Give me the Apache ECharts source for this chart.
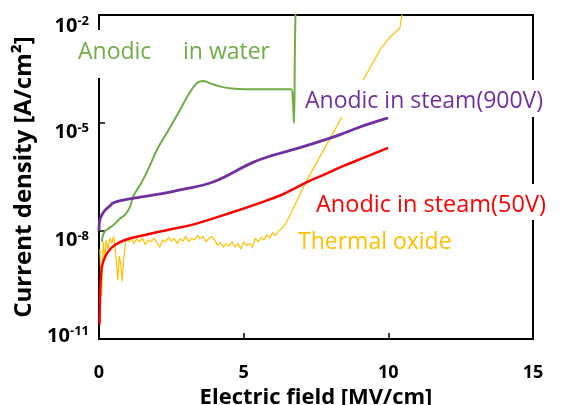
<!DOCTYPE html>
<html><head><meta charset="utf-8">
<script src="https://cdn.jsdelivr.net/npm/echarts@6/dist/echarts.min.js"></script>
<style>html,body{margin:0;padding:0;background:#fff}#c{width:563px;height:405px}</style>
</head><body><div id="c"></div>
<script>
// Electric field [MV/cm] and log10 of current density [A/cm2]
const waterE    = [0.1, 0.17, 0.35, 0.5, 0.75, 0.9, 1.07, 1.18, 1.31, 1.52, 1.75, 2.0, 2.4, 2.8, 3.1, 3.39, 3.6, 3.85, 4.2, 4.6, 5.0, 5.8, 6.65, 6.7, 6.74, 6.77, 6.8];
const waterLogJ = [-8.3, -8.05, -7.92, -7.83, -7.64, -7.55, -7.33, -7.05, -6.86, -6.58, -6.2, -5.75, -5.2, -4.64, -4.2, -3.89, -3.83, -3.9, -3.99, -4.04, -4.06, -4.06, -4.06, -4.4, -5.0, -3.0, -1.5];

const steam900E    = [0, 0.01, 0.03, 0.1, 0.21, 0.38, 0.48, 0.83, 1.42, 1.66, 2.45, 2.8, 3.94, 5.3, 6.0, 6.8, 7.88, 8.57, 9.02, 9.99];
const steam900LogJ = [-8.0, -7.78, -7.69, -7.55, -7.42, -7.3, -7.22, -7.14, -7.06, -7.03, -6.92, -6.86, -6.64, -6.1, -5.9, -5.72, -5.45, -5.25, -5.11, -4.86];

const steam50E    = [0.02, 0.03, 0.07, 0.14, 0.31, 0.55, 0.9, 1.59, 2.38, 3.21, 4.53, 5.67, 6.3, 6.71, 7.19, 7.8, 8.43, 9.2, 9.99];
const steam50LogJ = [-10.6, -10.06, -9.2, -8.86, -8.58, -8.39, -8.25, -8.11, -7.97, -7.83, -7.5, -7.19, -7.0, -6.84, -6.64, -6.43, -6.2, -5.95, -5.69];

const thermalE = [0.03, 0.06, 0.09, 0.12, 0.15, 0.2, 0.25, 0.3, 0.38, 0.45, 0.5, 0.55, 0.6, 0.65, 0.7, 0.75, 0.8, 0.85, 0.92, 0.98,
  1.05, 1.1, 1.2, 1.3, 1.4, 1.5, 1.6, 1.7, 1.8, 1.9, 2.0, 2.1, 2.2, 2.3, 2.4, 2.5, 2.6, 2.7, 2.8, 2.9,
  3.0, 3.1, 3.2, 3.3, 3.4, 3.5, 3.6, 3.7, 3.8, 3.9, 4.0, 4.1, 4.2, 4.3, 4.4, 4.5, 4.6, 4.7, 4.8, 4.9,
  5.0, 5.1, 5.2, 5.3, 5.4, 5.5, 5.6, 5.7, 5.8, 5.9, 6.0, 6.1, 6.2, 6.3, 6.45, 6.6, 7.19, 8.4, 9.13, 9.71, 10.05, 10.4, 10.47, 10.5];
const thermalLogJ = [-8.5, -9.2, -9.8, -9.0, -8.3, -8.8, -8.25, -8.5, -8.2, -8.35, -8.15, -8.4, -8.85, -9.36, -8.7, -8.9, -9.4, -8.8, -8.3, -8.2,
  -8.3, -8.18, -8.35, -8.22, -8.3, -8.2, -8.38, -8.25, -8.3, -8.2, -8.32, -8.45, -8.25, -8.3, -8.18, -8.28, -8.2, -8.35, -8.22, -8.28,
  -8.15, -8.3, -8.2, -8.25, -8.12, -8.22, -8.15, -8.3, -8.2, -8.15, -8.25, -8.4, -8.32, -8.45, -8.35, -8.42, -8.3, -8.45, -8.35, -8.5,
  -8.3, -8.4, -8.35, -8.45, -8.2, -8.3, -8.18, -8.25, -8.1, -8.2, -8.05, -8.12, -8.0, -7.95, -7.8, -7.56, -6.58, -4.83, -3.81, -2.97, -2.62, -2.36, -2.0, -1.5];

const xTicks = [0, 5, 10, 15];
const yTickExps = [-11, -8, -5, -2];
const yLabelPos = [-10.92, -8.27, -5.27, -2.3];

const pairs = (xs, ys) => xs.map((x, i) => [x, ys[i]]);

const chart = echarts.init(document.getElementById('c'), null, {renderer: 'canvas'});
const FONT = '"Open Sans", Lato, sans-serif';

chart.setOption({
  animation: false,
  backgroundColor: '#fff',
  grid: {left: 99, right: 30, top: 15, bottom: 66, containLabel: false, outerBoundsMode: 'none',
    show: true, borderColor: '#000', borderWidth: 2, backgroundColor: 'transparent'},
  xAxis: {
    type: 'value', min: 0, max: 15, interval: 5,
    name: 'Electric field [MV/cm]', nameLocation: 'middle', nameGap: 44,
    nameTextStyle: {fontFamily: FONT, fontWeight: 'bold', fontSize: 22, color: '#000'},
    axisLine: {lineStyle: {color: '#000', width: 2}},
    axisTick: {inside: true, length: 6, lineStyle: {color: '#000', width: 1.5}},
    axisLabel: {margin: 25, fontFamily: FONT, fontWeight: 'bold', fontSize: 18, color: '#000',
      customValues: xTicks},
    splitLine: {show: false}
  },
  yAxis: {
    type: 'value', min: -11, max: -2,
    name: 'Current density [A/cm²]', nameLocation: 'middle', nameGap: 55,
    nameTextStyle: {fontFamily: FONT, fontWeight: 'bold', fontSize: 24, color: '#000'},
    axisLine: {lineStyle: {color: '#000', width: 2}},
    axisTick: {inside: true, length: 6, lineStyle: {color: '#000', width: 1.5}, customValues: yTickExps},
    axisLabel: {
      margin: 10, customValues: yLabelPos,
      formatter: v => '{b|10}{s|' + Math.round(v) + '}',
      rich: {
        b: {fontFamily: FONT, fontWeight: 'bold', fontSize: 20, color: '#000', lineHeight: 22},
        s: {fontFamily: FONT, fontWeight: 'bold', fontSize: 13, color: '#000', lineHeight: 14, verticalAlign: 'top'}
      }
    },
    splitLine: {show: false}
  },
  series: [
    {name: 'Thermal oxide', type: 'line', data: pairs(thermalE, thermalLogJ), showSymbol: false, symbol: 'none',
      lineStyle: {color: '#FFC000', width: 1.2}, z: 2},
    {name: 'Anodic in steam(50V)', type: 'line', data: pairs(steam50E, steam50LogJ), showSymbol: false, symbol: 'none',
      smooth: 0.4, lineStyle: {color: '#FF0000', width: 2.5}, z: 3},
    {name: 'Anodic in water', type: 'line', data: pairs(waterE, waterLogJ), showSymbol: false, symbol: 'none',
      smooth: 0.4, lineStyle: {color: '#70AD47', width: 2}, z: 4},
    {name: 'Anodic in steam(900V)', type: 'line', data: pairs(steam900E, steam900LogJ), showSymbol: false, symbol: 'none',
      smooth: 0.4, lineStyle: {color: '#7030A0', width: 2.8}, z: 5}
  ],
  graphic: [
    {type: 'rect', z: 100, shape: {x: 88, y: 30, width: 192, height: 48}, style: {fill: '#fff'}},
    {type: 'rect', z: 100, shape: {x: 300, y: 80, width: 263, height: 37}, style: {fill: '#fff'}},
    {type: 'rect', z: 100, shape: {x: 312, y: 184, width: 251, height: 36}, style: {fill: '#fff'}},
    {type: 'text', z: 101, x: 78, y: 52, style: {text: 'Anodic', fill: '#70AD47', font: '23px ' + FONT, textAlign: 'left', textVerticalAlign: 'middle', align: 'left', verticalAlign: 'middle'}},
    {type: 'text', z: 101, x: 183, y: 52, style: {text: 'in water', fill: '#70AD47', font: '23px ' + FONT, textAlign: 'left', textVerticalAlign: 'middle', align: 'left', verticalAlign: 'middle'}},
    {type: 'text', z: 101, x: 305, y: 101, style: {text: 'Anodic in steam(900V)', fill: '#7030A0', font: '23px ' + FONT, textAlign: 'left', textVerticalAlign: 'middle', align: 'left', verticalAlign: 'middle'}},
    {type: 'text', z: 101, x: 316, y: 205, style: {text: 'Anodic in steam(50V)', fill: '#FF0000', font: '23.5px ' + FONT, textAlign: 'left', textVerticalAlign: 'middle', align: 'left', verticalAlign: 'middle'}},
    {type: 'text', z: 101, x: 298, y: 242, style: {text: 'Thermal oxide', fill: '#FFC000', font: '23px ' + FONT, textAlign: 'left', textVerticalAlign: 'middle', align: 'left', verticalAlign: 'middle'}}
  ]
});
</script></body></html>
